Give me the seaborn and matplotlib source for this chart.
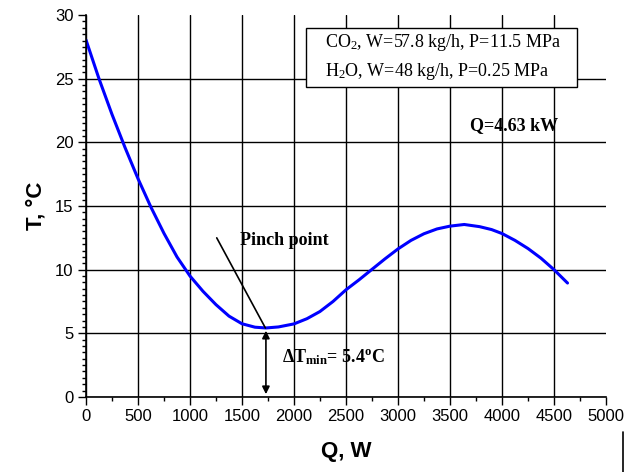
import pandas as pd
import seaborn as sns
import matplotlib.pyplot as plt
from matplotlib.ticker import MultipleLocator
from matplotlib.lines import Line2D
from matplotlib.patches import Rectangle

q_w = [0, 125, 250, 375, 500, 625, 750, 875, 1000, 1125, 1250, 1375, 1500, 1625, 1730, 1850,
       2000, 2125, 2249, 2375, 2500, 2625, 2746, 2875, 3000, 3125, 3249, 3375, 3500,
       3637, 3784, 3900, 4000, 4125, 4250, 4375, 4500, 4630]
t_c = [28.05, 25.0, 22.2, 19.6, 17.15, 14.9, 12.85, 11.0, 9.5, 8.3, 7.25, 6.35, 5.75, 5.48, 5.42, 5.5,
       5.74, 6.15, 6.71, 7.5, 8.42, 9.2, 10.0, 10.85, 11.63, 12.3, 12.82, 13.2, 13.42,
       13.55, 13.38, 13.15, 12.84, 12.3, 11.66, 10.9, 10.0, 8.95]

pinch_q = 1730
pinch_t = 5.42
pointer_start = (1257, 12.5)

df = pd.DataFrame({"Q": q_w, "T": t_c})

sns.set_style("ticks")
plt.rcParams["text.color"] = "black"
plt.rcParams["axes.labelcolor"] = "black"
plt.rcParams["xtick.color"] = "black"
plt.rcParams["ytick.color"] = "black"
plt.rcParams["font.family"] = ["Liberation Sans", "DejaVu Sans"]
plt.rcParams["mathtext.fontset"] = "custom"
plt.rcParams["mathtext.rm"] = "Liberation Serif"
plt.rcParams["mathtext.bf"] = "Liberation Serif:bold"
plt.rcParams["mathtext.it"] = "Liberation Serif:italic"

fig = plt.figure(figsize=(6.25, 4.72), dpi=100)
ax = fig.add_axes([0.1376, 0.159, 0.832, 0.809])

sns.lineplot(data=df, x="Q", y="T", color="#0000ff", lw=2.2, ax=ax)

ax.set_xlim(0, 5000)
ax.set_ylim(0, 30)
ax.xaxis.set_major_locator(MultipleLocator(500))
ax.xaxis.set_minor_locator(MultipleLocator(250))
ax.yaxis.set_major_locator(MultipleLocator(5))
ax.yaxis.set_minor_locator(MultipleLocator(0.5))
ax.grid(True, which="major", color="black", lw=1)
ax.tick_params(which="major", direction="out", length=6, width=1, labelsize=12, pad=3)
ax.tick_params(which="minor", direction="out", length=3, width=1)
for s in ["top", "right"]:
    ax.spines[s].set_visible(False)
for s in ["left", "bottom"]:
    ax.spines[s].set_color("black")
    ax.spines[s].set_linewidth(1.2)

# no grid line along the 5000 / 30 edges
fig.canvas.draw()
for gl, v in zip(ax.xaxis.get_gridlines(), ax.get_xticks()):
    if v >= 5000:
        gl.set_visible(False)
for gl, v in zip(ax.yaxis.get_gridlines(), ax.get_yticks()):
    if v >= 30:
        gl.set_visible(False)

ax.set_xlabel("Q, W", fontsize=16, fontweight="bold", labelpad=12)
ax.set_ylabel("T, °C", fontsize=16, fontweight="bold", labelpad=6)

serif = "Liberation Serif"
# pinch point pointer
ax.plot([pointer_start[0], pinch_q - 5], [pointer_start[1], pinch_t], color="black", lw=1.2)
ax.text(1480, 12.3, "Pinch point", family=serif, fontsize=13, fontweight="bold",
        ha="left", va="center")
ax.annotate("", xy=(pinch_q, 0), xytext=(pinch_q, pinch_t),
            arrowprops=dict(arrowstyle="<|-|>", color="black", lw=1.2, mutation_scale=11))
ax.text(1880, 3.1, "Δ$\\mathbf{T_{min}}$= 5.4$^\\mathbf{o}$C",
        family=serif, fontsize=13, fontweight="bold", ha="left", va="center")
ax.text(4540, 21.35, "Q=4.63 kW", family=serif, fontsize=13, fontweight="bold",
        ha="right", va="center")

# conditions box
ax.add_patch(Rectangle((0.423, 0.8115), 0.521, 0.1545, transform=ax.transAxes,
                       fc="white", ec="black", lw=1, zorder=5))
ax.text(0.4596, 0.929, "CO$_\\mathregular{2}$, W=57.8 kg/h, P=11.5 MPa", transform=ax.transAxes,
        family=serif, fontsize=13, ha="left", va="center", zorder=6)
ax.text(0.4596, 0.851, "H$_\\mathregular{2}$O, W=48 kg/h, P=0.25 MPa", transform=ax.transAxes,
        family=serif, fontsize=13, ha="left", va="center", zorder=6)

# stray vertical rule at the lower right corner
fig.add_artist(Line2D([0.9968, 0.9968], [0.0, 0.085], color="black", lw=1.2))

fig.savefig("out.png", dpi=100)
